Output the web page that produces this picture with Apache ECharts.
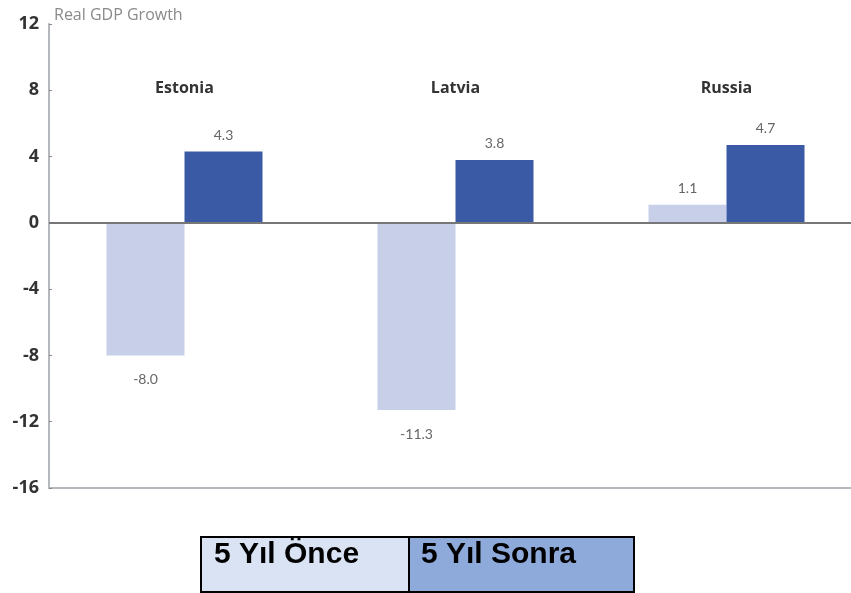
<!DOCTYPE html>
<html>
<head>
<meta charset="utf-8">
<script src="https://cdn.jsdelivr.net/npm/echarts@6/dist/echarts.min.js"></script>
<style>html,body{margin:0;padding:0;background:#fff;}#c{width:851px;height:593px;}</style>
</head>
<body>
<div id="c"></div>
<script>
const categories = ['Estonia', 'Latvia', 'Russia'];
const seriesNames = ['5 Yıl Önce', '5 Yıl Sonra'];
const before = [-8.0, -11.3, 1.1];
const after = [4.3, 3.8, 4.7];
const yTicks = [-16, -12, -8, -4, 0, 4, 8, 12];

const chart = echarts.init(document.getElementById('c'), null, {renderer: 'canvas'});

function labelled(vals) {
  return vals.map(v => ({
    value: v,
    label: {
      show: true,
      position: v >= 0 ? 'top' : 'bottom',
      distance: v >= 0 ? 9 : 17,
      formatter: p => p.value.toFixed(1),
      color: '#666',
      fontFamily: 'Lato',
      fontSize: 14
    }
  }));
}

chart.setOption({
  animation: false,
  title: {
    text: 'Real GDP Growth',
    left: 49, top: 2,
    textStyle: {fontFamily: 'Open Sans', fontSize: 16, fontWeight: 'normal', color: '#8a8a8a'}
  },
  grid: {left: 49, top: 24, width: 813, height: 464, containLabel: false, outerBoundsMode: 'none'},
  xAxis: [
    {
      type: 'category', data: categories, position: 'bottom',
      axisLine: {onZero: false, lineStyle: {color: '#b4b8bc', width: 2}},
      axisTick: {show: false}, axisLabel: {show: false}, splitLine: {show: false}
    },
    {
      type: 'category', data: categories, position: 'top',
      axisLine: {show: false}, axisTick: {show: false}, splitLine: {show: false},
      axisLabel: {inside: true, margin: 56, color: '#333', fontFamily: 'Open Sans', fontWeight: 'bold', fontSize: 16}
    }
  ],
  yAxis: {
    type: 'value', min: yTicks[0], max: yTicks[yTicks.length - 1], interval: 4,
    axisLine: {show: true, lineStyle: {color: '#b4b8bc', width: 2}},
    axisTick: {show: true, inside: true, length: 3, lineStyle: {color: '#888'}},
    axisLabel: {margin: 10, color: '#333', fontFamily: 'Open Sans', fontWeight: 'bold', fontSize: 18},
    splitLine: {show: false}
  },
  series: [
    {
      name: seriesNames[0], type: 'bar', xAxisIndex: 0, data: labelled(before),
      barWidth: 78, barGap: '0%', itemStyle: {color: '#c8cfe9'},
      markLine: {
        silent: true, symbol: 'none', label: {show: false},
        lineStyle: {color: '#777', width: 2, type: 'solid'},
        data: [{yAxis: 0}]
      }
    },
    {
      name: seriesNames[1], type: 'bar', xAxisIndex: 0, data: labelled(after),
      barWidth: 78, barGap: '0%', itemStyle: {color: '#3a5aa6'}
    }
  ],
  graphic: [
    {type: 'rect', left: 200, top: 536, shape: {width: 208, height: 55}, style: {fill: '#dae3f3', stroke: '#000', lineWidth: 2}},
    {type: 'rect', left: 408, top: 536, shape: {width: 225, height: 55}, style: {fill: '#8eaadb', stroke: '#000', lineWidth: 2}},
    {type: 'text', left: 214, top: 540, style: {text: seriesNames[0], font: 'bold 30px "Liberation Sans", Arial', fill: '#000'}},
    {type: 'text', left: 421, top: 540, style: {text: seriesNames[1], font: 'bold 30px "Liberation Sans", Arial', fill: '#000'}}
  ]
});
</script>
</body>
</html>
